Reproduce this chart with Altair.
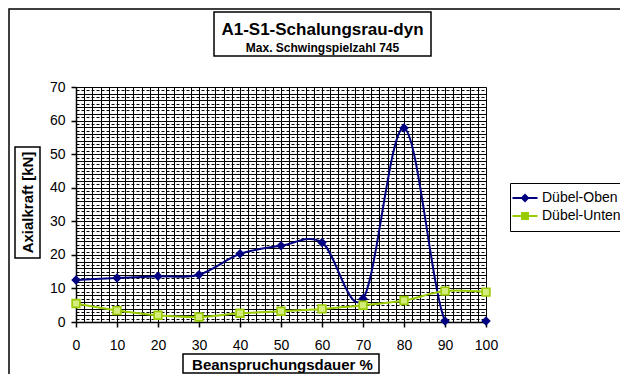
import altair as alt
import pandas as pd

# ---- data ----
x_vals = [0, 10, 20, 30, 40, 50, 60, 70, 80, 90, 100]
oben = [12.5, 13.1, 13.6, 14.1, 20.3, 22.7, 23.7, 6.9, 57.8, 0.3, 0.3]
unten = [5.5, 3.4, 2.0, 1.5, 2.6, 3.2, 3.9, 5.0, 6.4, 9.2, 8.9]
series_names = ["Dübel-Oben", "Dübel-Unten"]
series_colors = ["#000080", "#99CC00"]

title_text = "A1-S1-Schalungsrau-dyn"
subtitle_text = "Max. Schwingspielzahl 745"
x_title = "Beanspruchungsdauer %"
y_title = "Axialkraft [kN]"

df = pd.DataFrame({
    "x": x_vals * 2,
    "y": oben + unten,
    "series": [series_names[0]] * len(x_vals) + [series_names[1]] * len(x_vals),
})

FONT = "Liberation Sans"
W, H = 410, 235

xscale = alt.Scale(domain=[0, 100], nice=False, zero=False)
yscale = alt.Scale(domain=[0, 70], nice=False)

x_axis = alt.Axis(
    values=list(range(0, 101, 2)),
    labelExpr="datum.value % 10 === 0 ? datum.label : ''",
    labelOverlap=False, labelFlush=False,
    labelFontSize=14, labelFont=FONT, labelColor="black", labelPadding=11,
    tickSize=5,
    tickColor={"condition": {"test": "datum.value % 10 === 0", "value": "black"}, "value": "transparent"},
    tickWidth=1.5,
    grid=True, gridColor="black", gridWidth=1, gridOpacity=1,
    domainColor="black", domainWidth=1.5,
    title=x_title, titleFont=FONT, titleFontSize=15, titleFontWeight="bold",
    titleColor="black", titleX=206, titleY=42, titleBaseline="middle", titleAlign="center",
)
y_axis = alt.Axis(
    values=list(range(0, 71, 1)),
    labelExpr="datum.value % 10 === 0 ? datum.label : ''",
    labelOverlap=False, labelFlush=False,
    labelFontSize=14, labelFont=FONT, labelColor="black", labelPadding=6,
    tickSize=5,
    tickColor={"condition": {"test": "datum.value % 10 === 0", "value": "black"}, "value": "transparent"},
    tickWidth=1.5,
    grid=True, gridColor="black", gridWidth=1, gridOpacity=1,
    gridDash={"condition": {"test": "datum.value % 2 === 1", "value": [3, 2]}, "value": []},
    domainColor="black", domainWidth=1.5,
    title=y_title, titleFont=FONT, titleFontSize=15, titleFontWeight="bold",
    titleColor="black", titleX=-49, titleY=115, titleAngle=270,
    titleBaseline="middle", titleAlign="center",
)

X = alt.X("x:Q", scale=xscale, axis=x_axis)
Y = alt.Y("y:Q", scale=yscale, axis=y_axis)

base = alt.Chart(df)
one = pd.DataFrame({"k": [0]})

# decorative frames (chart border and title boxes)
outer = alt.Chart(one).mark_rect(fill="white", fillOpacity=0, stroke="black", strokeWidth=1.5).encode(
    x=alt.value(-67), x2=alt.value(W + 200), y=alt.value(-78), y2=alt.value(H + 200))
title_box = alt.Chart(one).mark_rect(fill="white", stroke="black", strokeWidth=1.5).encode(
    x=alt.value(138), x2=alt.value(355), y=alt.value(-75), y2=alt.value(-31))
ytitle_box = alt.Chart(one).mark_rect(fill="white", fillOpacity=0, stroke="black", strokeWidth=1.5).encode(
    x=alt.value(-61), x2=alt.value(-36), y=alt.value(60), y2=alt.value(171))
xtitle_box = alt.Chart(one).mark_rect(fill="white", fillOpacity=0, stroke="black", strokeWidth=1.5).encode(
    x=alt.value(107), x2=alt.value(303), y=alt.value(267), y2=alt.value(286))

title_mark = alt.Chart(one).mark_text(font=FONT, fontSize=17, fontWeight="bold", color="black",
                                      baseline="middle", align="center").encode(
    x=alt.value(246.5), y=alt.value(-57), text=alt.value(title_text))
subtitle_mark = alt.Chart(one).mark_text(font=FONT, fontSize=12, fontWeight="bold", color="black",
                                         baseline="middle", align="center").encode(
    x=alt.value(246.5), y=alt.value(-39), text=alt.value(subtitle_text))

lines = []
for name, col in zip(series_names, series_colors):
    lines.append(
        base.transform_filter(alt.datum.series == name)
        .mark_line(interpolate="cardinal", tension=0, clip=True, color=col, strokeWidth=2)
        .encode(x=X, y=Y)
    )

pts_oben = base.transform_filter(alt.datum.series == series_names[0]).mark_point(
    shape="diamond", filled=True, size=90, color=series_colors[0], opacity=1).encode(x=X, y=Y)
pts_unten = base.transform_filter(alt.datum.series == series_names[1]).mark_point(
    shape="square", filled=True, size=60, fill="#D4EC7A", stroke=series_colors[1],
    strokeWidth=1.6, opacity=1).encode(x=X, y=Y)

# legend symbols: a short line with the series marker on it
diamond_path = "M-2.5,-0.2H2.5V0.2H-2.5Z M0,-0.9L0.9,0L0,0.9L-0.9,0Z"
square_path = "M-2.5,-0.2H2.5V0.2H-2.5Z M-0.8,-0.8H0.8V0.8H-0.8Z"

legend_def = alt.Legend(
    title=None, orient="none", legendX=434, legendY=96,
    padding=8, strokeColor="black", fillColor="white",
    symbolStrokeWidth=0, labelOffset=10, rowPadding=4,
    labelFont=FONT, labelFontSize=14, labelColor="black",
)
legend_layer = base.transform_filter("false").mark_point(filled=True, opacity=1).encode(
    color=alt.Color("series:N", scale=alt.Scale(domain=series_names, range=series_colors), legend=legend_def),
    shape=alt.Shape("series:N", scale=alt.Scale(domain=series_names, range=[diamond_path, square_path]),
                    legend=legend_def),
)

chart = alt.layer(
    outer, title_box, title_mark, subtitle_mark, ytitle_box, xtitle_box,
    *lines, pts_oben, pts_unten, legend_layer,
).properties(
    width=W, height=H,
    autosize=alt.AutoSizeParams(type="none"),
    padding={"left": 68, "top": 79, "right": 134, "bottom": 52},
).configure_view(
    stroke="#808080", strokeWidth=2,
).configure_legend(
    strokeWidth=1.5,
).configure(background="white", font=FONT)

chart.save("out.html", embed_options={"renderer": "svg", "actions": False})
